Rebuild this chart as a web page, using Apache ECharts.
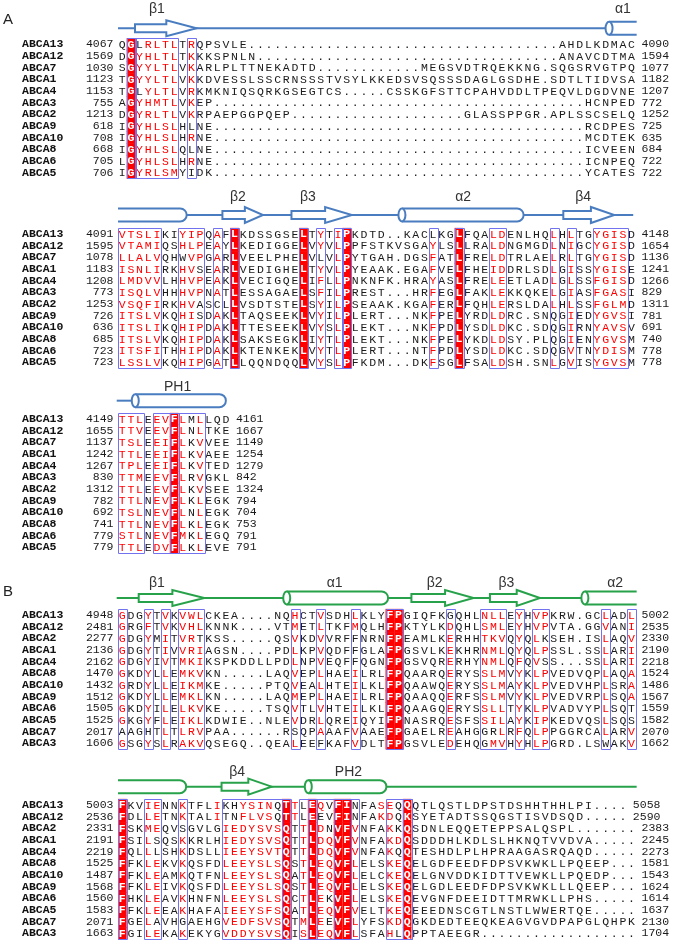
<!DOCTYPE html>
<html><head><meta charset="utf-8">
<script src="https://cdn.jsdelivr.net/npm/echarts/dist/echarts.min.js"></script>
<style>html,body{margin:0;padding:0;background:#fff}#c{width:674px;height:943px}</style>
</head><body><div id="c"></div>
<script>
// gap helper: alignment gap of n columns
const gap = n => '.'.repeat(n);
// Convention: lowercase letter = similar residue (printed red) inside a similarity box.

const namesA = ['ABCA13','ABCA12','ABCA7','ABCA1','ABCA4','ABCA3','ABCA2','ABCA9','ABCA10','ABCA8','ABCA6','ABCA5'];
const namesB = ['ABCA13','ABCA12','ABCA2','ABCA1','ABCA4','ABCA8','ABCA10','ABCA9','ABCA6','ABCA5','ABCA7','ABCA3'];

// ---- Panel A, block 1
const startA1 = [4067,1569,1030,1123,1153,755,1213,618,708,668,705,706];
const endA1   = [4090,1594,1077,1182,1207,772,1252,725,635,684,722,722];
const seqA1 = [
  'QGLrltlTrQPSVLE' + gap(36) + 'AHDLKDMAC',
  'DGyhltlTkKKSPNLN' + gap(35) + 'ANAVCDTMA',
  'SGyyltlVkARLPLTTNEKADTD' + gap(12) + 'MEGSVDTRQEKKNG.SQGSRVGTPQ',
  'TGyyltlVkKDVESSLSSCRNSSSTVSYLKKEDSVSQSSSDAGLGSDHE.SDTLTIDVSA',
  'TGLyltlVrKMKNIQSQRKGSEGTCS.....CSSKGFSTTCPAHVDDLTPEQVLDGDVNE',
  'AGyhmtlVkEP' + gap(43) + 'HCNPED',
  'DGyrltlVkRPAEPGGPQEP' + gap(20) + 'GLASSPPGR.APLSSCSELQ',
  'IGyhlslHLNE' + gap(43) + 'RCDPES',
  'IGyhlslHrNE' + gap(43) + 'MCDTEK',
  'IGyhlslQLNE' + gap(43) + 'ICVEEN',
  'LGyhlslHrNE' + gap(43) + 'ICNPEQ',
  'IGyrlsmYIDK' + gap(43) + 'YCATES'
];
const boxesA1 = [[2,2],[3,7],[9,9]];
const identA1 = [2];
const ssA1 = [['line',0.5,57.4],['strand',2.47,6.1,9.6],['helix',57.4,60.6,1,0]];
const labelsA1 = [['β1',5.0],['α1',59.0]];

// ---- Panel A, block 2
const startA2 = [4091,1595,1078,1183,1208,773,1253,726,636,685,723,723];
const endA2   = [4148,1654,1136,1241,1266,829,1311,781,691,740,778,778];
const seqA2 = [
  'vtsliKIyipQaFLKDSSGSELTyTiPKDTD..KACLKGLFQAldENLHQlHlTGygisD',
  'vtamiQShlpEaYLKEDIGGELVyVlPPFSTKVSGAyLSLLRAldNGMGDlNiGCygisD',
  'llalvQHWvpGaRLVEELPHELVLVlPYTGAH.DGSfATLFREldTRLAElRlTGygisD',
  'isnliRKhvSEaRLVEDIGHELTyVlPYEAAK.EGAfVELFHEidDRLSDlGiSSygisE',
  'lmdvvLHhvpEaKLVECIGQELIfLlPNKNFK.HRAyASLFREleETLADlGlSSfgisD',
  'isqlvHHhvpNaTLESSAGAELSfIlPREST...HRfEGLFAKleKKQKElGiASfgasI',
  'vsqfiRKhvASCLLVSDTSTELSyIlPSEAAK.KGAfERLFQHleRSLDAlHlSSfglmD',
  'itslvKQhiSDaKLTAQSEEKLVyIlPLERT...NKfPELYRDldRC.SNQGiEDygvsI',
  'itsliKQhipDaKLTTESEEKLVySlPLEKT...NKfPDLYSDldKC.SDQGiRNyavsV',
  'itslvKQhipDaKLSAKSEGKLIyTlPLEKT...NKfPELYKDldSY.PLQGiENygvsM',
  'itsfiTHhipDaKLKTENKEKLVyTlPLERT...NTfPDLYSDldKC.SDQGvTNydisM',
  'lsslvKQhipGaTLLQQNDQQLVySlPFKDM...DKfSGLFSAldSH.SNlGvISygvsM'
];
const boxesA2 = [[1,5],[8,10],[12,12],[14,14],[22,22],[24,24],[26,26],[27,27],[37,37],[40,40],[44,45],[51,51],[53,53],[56,59]];
const identA2 = [14,22,27,40];
const ssA2 = [['helix',0.5,8.46,0,1],['line',8.46,60.2],['strand',12.6,15.2,17.3],['strand',20.6,24.5,27.6],['helix',33.4,47.5,1,1],['strand',52.1,55.3,58.0]];
const labelsA2 = [['β2',14.4],['β3',22.5],['α2',40.5],['β4',54.4]];

// ---- Panel A, block 3
const startA3 = [4149,1655,1137,1242,1267,830,1312,782,692,741,779,779];
const endA3   = [4161,1667,1149,1254,1279,842,1324,794,704,753,791,791];
const seqA3 = [
  'ttlEevFlMlLQD','ttvEevFlNlTKE','tslEeiFlKvVEE','ttlEeiFlKvAEE','tplEeiFlKvTED','ttmEevFlRvGKL',
  'ttlEevFlKvSEE','ttlNevFlKlEGK','tslNevFlNlEGK','ttlNevFlKlEGK','stlNevFmKlEGQ','ttlEdvFlKlEVE'
];
const boxesA3 = [[1,3],[5,10],[7,7]];
const identA3 = [7];
const ssA3 = [['line',0.35,2.5],['helix',2.5,13.0,1,1]];
const labelsA3 = [['PH1',7.4]];

// ---- Panel B, block 1
const startB1 = [4948,2481,2277,2136,2162,1470,1432,1512,1505,1525,2017,1606];
const endB1   = [5002,2535,2330,2190,2218,1524,1486,1567,1559,1582,2070,1662];
const seqB1 = [
  'gDGyTvKvwlCKEA....NQhCTvSDHlKLYFPGIQFKGQHLnllEyHvpKRW.GClADl',
  'gRGfTvKvhlKNNK....VTmETlTKFmQLHFPKTYLKdQHLsmlEyHvpVTA.GGvANi',
  'gDGyMiTvrTKSS.....QSvKDvVRFFNRNFPEAMLKeRHHtkvQyQlKSEH.ISlAQv',
  'gDGyTiVvriAGSN....PDlKPvQDFFGLAFPGSVLKeKHRnmlQyQlpSSL.SSlARi',
  'gDGyIvTmkiKSPKDDLLPDlNPvEQFFQGNFPGSVQReRHYnmlQfQvSS...SSlARi',
  'gKDyLlEmkvKN.....LAQvEPlHAEiLRLFPQAARQeRYSslmVyKlpVEDVQPlAQa',
  'gRDyLlEikmKE.....PTQvEAlHTEiLKLFPQAAWQeRYSslmAyKlpVEDVHPlSRa',
  'gKDyLlEmklKN.....LAQmEPlHAEiLRLFPQAAQQeRFSslmVyKlpVEDVRPlSQa',
  'gKDyIlElkvKE.....TSQvTLvHTEiLKLFPQAAGQeRYSsllTyKlpVADVYPlSQT',
  'gKGyFlEiklKDWIE..NLEvDRlQREiQYIFPNASRQeSFSsilAyKipKEDVQSlSQS',
  'AAGHTlTlrvPAA......RSQPaAAFvAAEFPGAELReAHGGRlRfQlpPGGRCAlARv',
  'gSGySlRakvQSEGQ..QEAlEEFKAFvDLTFPGSVLEdEHQGmvHyHlpGRD.LSWAKv'
];
const boxesB1 = [[1,1],[4,4],[6,6],[8,10],[21,21],[24,24],[28,28],[32,33],[39,39],[43,45],[47,47],[49,50],[57,57],[60,60]];
const identB1 = [32,33];
const ssB1 = [['line',0.35,54.6],['strand',2.9,6.8,10.5],['helix',20.05,31.8,1,1],['strand',34.5,38.4,41.7],['strand',43.6,46.7,49.4],['helix',54.6,60.6,1,0]];
const labelsB1 = [['β1',5.0],['α1',25.6],['β2',37.2],['β3',45.5],['α2',58.1]];

// ---- Panel B, block 2
const startB2 = [5003,2536,2331,2191,2219,1525,1487,1568,1560,1583,2071,1663];
const endB2   = [5058,2590,2383,2245,2273,1581,1543,1624,1614,1637,2130,1704];
const seqB2 = [
  'FKVieNNkTFLiKHysinQTtLeqVFiNFAseQQQTLQSTLDPSTDSHHTHHLPI....',
  'FDLleTNkTALiTNflvsQTtLeEVFiNFAkdQKSYETADTSSQGSTISVDSQD.....',
  'FSKmeQVSGVLGiedysvsQTtLdNVFvNFAkKQSDNLEQQETEPPSALQSPL.......',
  'FSIlSQSkKRLHiedysvsQTtLdqVFvNFAkdQSDDDHLKDLSLHKNQTVVDVA.....',
  'FQLlLSHkDSLLieeysvtQTtLdqVFvNFAkQQTESHDLPLHPRAAGASRQAQD.....',
  'FFKleKVkQSFDleeyslsQStLeqVFlELSkeQELGDFEEDFDPSVKWKLLPQEEP...',
  'FFKleAMkQTFNleeyslsQAtLeqVFlELCkeQELGNVDDKIDTTVEWKLLPQEDP...',
  'FFKleIVkQSFDleeyslsQStLeqVFlELSkeQELGDLEEDFDPSVKWKLLLQEEP...',
  'FHKleAVkHNFNleeyslsQCtLeKVFlELSkeQEVGNFDEEIDTTMRWKLLPHS.....',
  'FFKleEAkHAFAieeysfsQAtLeqVFvELTkeQEEEDNSCGTLNSTLWWERTQE.....',
  'FGElAVHGAEHGvedfsvsQTmLeEVFlYFSkdQGKDEDTEEQKEAGVGVDPAPGLQHPK',
  'FGIleKAkEKYGvddysvsQIsLeqVFlSFAhLQPPTAEEGR' + gap(18)
];
const boxesB2 = [[1,1],[4,5],[8,8],[13,19],[20,20],[22,28],[23,23],[26,27],[32,34],[34,34]];
const identB2 = [1,20,23,26,27,34];
const ssB2 = [['helix',0.5,8.4,0,1],['line',8.4,60.6],['strand',12.5,15.6,18.3],['helix',22.55,31.6,1,1]];
const labelsB2 = [['β4',14.3],['PH2',27.2]];

// ---------- drawing ----------
const P = 11.67;               // row pitch (px)
const RED = '#ff0000', BOX = '#7272ee', INK = '#1b1b1b';
const BLUE = '#4a7dc0', GREEN = '#27a24a';
const MONO = '"Liberation Mono", "Courier New", monospace';
const SANS = '"Liberation Sans", Arial, sans-serif';

const blocks = [
  {names:namesA, start:startA1, end:endA1, seq:seqA1, boxes:boxesA1, ident:identA1, ss:ssA1, labels:labelsA1, color:BLUE, y0:44.3, ssY:-1.37, labY:-3.02},
  {names:namesA, start:startA2, end:endA2, seq:seqA2, boxes:boxesA2, ident:identA2, ss:ssA2, labels:labelsA2, color:BLUE, y0:234, ssY:-1.63, labY:-3.2},
  {names:namesA, start:startA3, end:endA3, seq:seqA3, boxes:boxesA3, ident:identA3, ss:ssA3, labels:labelsA3, color:BLUE, y0:419, ssY:-1.57, labY:-2.77},
  {names:namesB, start:startB1, end:endB1, seq:seqB1, boxes:boxesB1, ident:identB1, ss:ssB1, labels:labelsB1, color:GREEN, y0:615, ssY:-1.46, labY:-2.74},
  {names:namesB, start:startB2, end:endB2, seq:seqB2, boxes:boxesB2, ident:identB2, ss:ssB2, labels:labelsB2, color:GREEN, y0:805, ssY:-1.57, labY:-2.85}
];

function rowRenderer(b) {
  return function (params, api) {
    const r = params.dataIndex;
    const s = b.seq[r];
    const cw = api.size([1, 0])[0];
    const rh = api.size([0, 1])[1];
    const yMid = api.coord([1, r])[1];
    const kids = [];
    kids.push({type:'text', style:{text:b.names[r], x:22, y:yMid, fill:'#111', font:'bold 11.5px ' + MONO, align:'left', verticalAlign:'middle'}});
    kids.push({type:'text', style:{text:String(b.start[r]), x:113.5, y:yMid, fill:INK, font:'11.5px ' + MONO, align:'right', verticalAlign:'middle'}});
    for (let i = 0; i < s.length; i++) {
      const col = i + 1, c = s[i], up = c.toUpperCase();
      const p = api.coord([col, r]);
      if (b.ident.indexOf(col) >= 0) {
        kids.push({type:'rect', shape:{x:p[0] - cw / 2, y:p[1] - rh / 2 - 0.3, width:cw, height:rh + 0.6}, style:{fill:RED}});
        kids.push({type:'text', style:{text:up, x:p[0], y:p[1] + 0.5, fill:'#fff', font:'bold 11.5px ' + MONO, align:'center', verticalAlign:'middle'}});
      } else {
        const sim = c !== up;
        kids.push({type:'text', style:{text:up, x:p[0], y:p[1] + 0.5, fill:sim ? RED : INK, font:'11.5px ' + MONO, align:'center', verticalAlign:'middle'}});
      }
    }
    const pe = api.coord([s.length, r]);
    kids.push({type:'text', style:{text:String(b.end[r]), x:pe[0] + 10, y:yMid, fill:INK, font:'11.5px ' + MONO, align:'left', verticalAlign:'middle'}});
    return {type:'group', children:kids};
  };
}

function boxRenderer(b) {
  return function (params, api) {
    const bx = b.boxes[params.dataIndex];
    const n = b.seq.length;
    const p1 = api.coord([bx[0] - 0.5, -0.5]);
    const p2 = api.coord([bx[1] + 0.5, n - 0.5]);
    return {type:'rect', shape:{x:Math.round(p1[0]) + 0.5, y:Math.round(p1[1]) + 0.5, width:Math.round(p2[0] - p1[0]), height:Math.round(p2[1] - p1[1])},
            style:{fill:null, stroke:BOX, lineWidth:1}};
  };
}

function ssRenderer(b) {
  return function (params, api) {
    const e = b.ss[params.dataIndex];
    const y = api.coord([1, b.ssY])[1];
    const X = v => api.coord([v, b.ssY])[0];
    const col = b.color, lw = 2;
    if (e[0] === 'line') {
      return {type:'line', z2:0, shape:{x1:X(e[1]), y1:y, x2:X(e[2]), y2:y}, style:{stroke:col, lineWidth:lw}};
    }
    if (e[0] === 'strand') {
      const x0 = X(e[1]), xb = X(e[2]), xt = X(e[3]), bh = 4, hh = 8;
      return {type:'polygon', z2:10, shape:{points:[[x0, y - bh], [xb, y - bh], [xb, y - hh], [xt, y], [xb, y + hh], [xb, y + bh], [x0, y + bh]]},
              style:{fill:'#fff', stroke:col, lineWidth:lw, lineJoin:'miter'}};
    }
    const xl = X(e[1]), xr = X(e[2]), h = 6.5, r = 6.5, capL = e[3], capR = e[4];
    const top = y - h, bot = y + h;
    const kids = [];
    const fillD = capR
      ? `M${xl} ${top} L${xr - r} ${top} A${r} ${r} 0 0 1 ${xr - r} ${bot} L${xl} ${bot} Z`
      : `M${xl} ${top} L${xr} ${top} L${xr} ${bot} L${xl} ${bot} Z`;
    const strokeD = capR
      ? `M${xl} ${top} L${xr - r} ${top} A${r} ${r} 0 0 1 ${xr - r} ${bot} L${xl} ${bot}`
      : `M${xl} ${top} L${xr} ${top} M${xr} ${bot} L${xl} ${bot}`;
    kids.push({type:'path', shape:{pathData:fillD}, style:{fill:'#fff', stroke:null}});
    kids.push({type:'path', shape:{pathData:strokeD}, style:{fill:null, stroke:col, lineWidth:lw}});
    if (capL) {
      const rx = 3.5;
      kids.push({type:'path', shape:{pathData:`M${xl - rx} ${y} A${rx} ${h} 0 1 0 ${xl + rx} ${y} A${rx} ${h} 0 1 0 ${xl - rx} ${y} Z`},
                 style:{fill:'#fff', stroke:col, lineWidth:lw}});
    }
    return {type:'group', z2:10, children:kids};
  };
}

function labelRenderer(b) {
  return function (params, api) {
    const l = b.labels[params.dataIndex];
    const p = api.coord([l[1], b.labY]);
    return {type:'text', style:{text:l[0], x:p[0], y:p[1], fill:'#333', font:'14px ' + SANS, align:'center', verticalAlign:'middle'}};
  };
}

const grid = [], xAxis = [], yAxis = [], series = [];
blocks.forEach((b, i) => {
  grid.push({left:118, width:517.8, top:b.y0 - 3.5 * P, height:15 * P});
  xAxis.push({type:'value', gridIndex:i, min:0.5, max:60.5, show:false});
  yAxis.push({type:'value', gridIndex:i, min:-3.5, max:11.5, inverse:true, show:false});
  const common = {type:'custom', xAxisIndex:i, yAxisIndex:i, clip:false, silent:true, animation:false};
  series.push(Object.assign({}, common, {z:3, data:b.ss.map(e => [Math.max(e[1], 0.5), b.ssY]), renderItem:ssRenderer(b)}));
  series.push(Object.assign({}, common, {z:3, data:b.labels.map(l => [l[1], b.labY]), renderItem:labelRenderer(b)}));
  series.push(Object.assign({}, common, {z:2, data:b.seq.map((s, r) => [1, r]), renderItem:rowRenderer(b)}));
  series.push(Object.assign({}, common, {z:4, data:b.boxes.map(bx => [bx[0], 0]), renderItem:boxRenderer(b)}));
});

const chart = echarts.init(document.getElementById('c'), null, {renderer:'canvas'});
chart.setOption({
  animation:false,
  backgroundColor:'#fff',
  grid, xAxis, yAxis, series,
  graphic:[
    {type:'text', left:3, top:12, style:{text:'A', font:'15px ' + SANS, fill:'#222'}},
    {type:'text', left:3, top:584, style:{text:'B', font:'15px ' + SANS, fill:'#222'}}
  ]
});
</script></body></html>
